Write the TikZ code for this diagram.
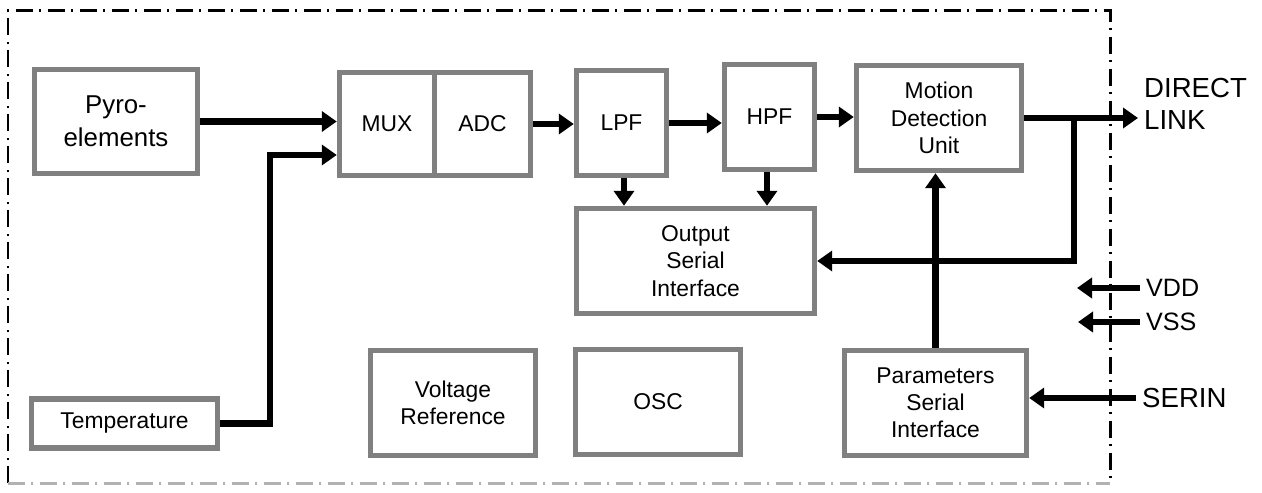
\documentclass[tikz,border=0pt]{standalone}
\usepackage{fontspec}
\setmainfont{Liberation Sans}
\usetikzlibrary{arrows.meta,calc}
\definecolor{boxgray}{RGB}{128,128,128}
\begin{document}
\begin{tikzpicture}[x=0.02cm, y=-0.02cm,
    block/.style={rectangle,draw=boxgray,line width=0.11cm,fill=white,align=center,font=\fontsize{13}{15.5}\selectfont},
    arr/.style={line width=0.13cm,-{Triangle[length=0.3cm,width=0.4cm]}},
    pin/.style={anchor=west,align=left,font=\fontsize{15.7}{18}\selectfont},
    border/.style={line width=0.06cm,dash pattern=on 0.34cm off 0.12cm on 0.04cm off 0.14cm}]
    \useasboundingbox (0,0) rectangle (1262,493);

    % Chip outline
    \draw[border] (8,483) -- (8,11) -- (1110,11) -- (1110,483);
    \draw[border,gray!60] (8,483) -- (1110,483);

    % Signal path
    \node[block,minimum width=3.26cm,minimum height=2.08cm,font=\fontsize{14.7}{18.8}\selectfont] (pyro) at (116,121.5) {Pyro-\\elements};
    \node[block,minimum width=1.9cm,minimum height=2.06cm] (mux) at (387,124) {MUX};
    \node[block,minimum width=1.92cm,minimum height=2.06cm] (adc) at (482.5,124) {ADC};
    \node[block,minimum width=1.8cm,minimum height=2.1cm] (lpf) at (621.5,123) {LPF};
    \node[block,minimum width=1.8cm,minimum height=2.1cm] (hpf) at (769.5,117) {HPF};
    \node[block,minimum width=3.3cm,minimum height=2.1cm] (mdu) at (939,118) {Motion\\Detection\\Unit};
    \node[block,minimum width=4.76cm,minimum height=2.1cm] (osi) at (695.5,261) {Output\\Serial\\Interface};

    % Bottom row
    \node[block,minimum width=3.72cm,minimum height=0.98cm] (temp) at (124.5,423.5) {Temperature};
    \node[block,minimum width=3.3cm,minimum height=2.1cm] (vref) at (453,403) {Voltage\\Reference};
    \node[block,minimum width=3.3cm,minimum height=2.1cm] (osc) at (658,402) {OSC};
    \node[block,minimum width=3.64cm,minimum height=2.1cm] (psi) at (935.5,403) {Parameters\\Serial\\Interface};

    % Pins
    \node[pin] (dlink) at (1138,104) {DIRECT\\LINK};
    \node[pin,font=\fontsize{14.3}{17}\selectfont] (vdd) at (1140,288) {VDD};
    \node[pin,font=\fontsize{14.3}{17}\selectfont] (vss) at (1140,322) {VSS};
    \node[pin] (serin) at (1136,398) {SERIN};
    \coordinate (vddin) at (1077,288);
    \coordinate (vssin) at (1078,322);
    \coordinate (bend) at (270,423.5);
    \coordinate (tap) at ($(mdu.east)+(50,0)$);

    % Connections
    \draw[arr] (pyro.east) -- (pyro.east -| mux.west);
    \draw[arr] (temp.east) -- (bend) |- ([yshift=-0.62cm]mux.west);
    \draw[arr] (adc.east) -- (adc.east -| lpf.west);
    \draw[arr] (lpf.east) -- (lpf.east -| hpf.west);
    \draw[arr] (hpf.east) -- (hpf.east -| mdu.west);
    \draw[arr] (mdu.east) -- (mdu.east -| dlink.west);
    \draw[arr] (tap) |- (osi.east);
    \draw[arr] ([xshift=0.05cm]lpf.south) -- ([xshift=0.05cm]lpf.south |- osi.north);
    \draw[arr] ([xshift=-0.05cm]hpf.south) -- ([xshift=-0.05cm]hpf.south |- osi.north);
    \draw[arr] (psi.north) -- (psi.north |- mdu.south);
    \draw[arr] (serin.west) -- (serin.west -| psi.east);
    \draw[arr] (vdd.west) -- (vddin);
    \draw[arr] (vss.west) -- (vssin);
\end{tikzpicture}
\end{document}
